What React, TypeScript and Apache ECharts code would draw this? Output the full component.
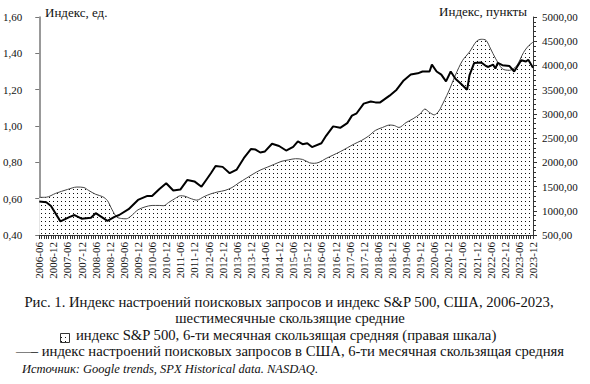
import React, { useEffect, useRef } from "react";
import * as echarts from "echarts";

// X axis: months since 2006-06 (0 = 2006-06, 210 = 2023-12), labelled every 6 months
const periodLabels = [
  "2006-06", "2006-12", "2007-06", "2007-12", "2008-06", "2008-12", "2009-06", "2009-12",
  "2010-06", "2010-12", "2011-06", "2011-12", "2012-06", "2012-12", "2013-06", "2013-12",
  "2014-06", "2014-12", "2015-06", "2015-12", "2016-06", "2016-12", "2017-06", "2017-12",
  "2018-06", "2018-12", "2019-06", "2019-12", "2020-06", "2020-12", "2021-06", "2021-12",
  "2022-06", "2022-12", "2023-06", "2023-12",
];

// S&P 500, 6-month moving average (right scale)
const spMonths = [0, 3, 7, 12, 16, 19, 21, 24, 27, 29, 31, 33, 35, 37, 39, 42, 45, 48, 51, 53, 55, 58, 60, 62, 64, 67, 70, 73, 76, 79, 82, 85, 88, 91, 94, 97, 100, 103, 106, 109, 112, 115, 117, 119, 122, 125, 128, 131, 134, 137, 140, 143, 146, 149, 151, 153, 156, 159, 162, 164, 166, 168, 170, 171, 174, 177, 180, 183, 186, 188, 190, 192, 194, 197, 200, 203, 206, 208, 210];
const spValues = [1277, 1280, 1360, 1440, 1490, 1480, 1420, 1340, 1290, 1210, 1020, 870, 840, 835, 890, 1020, 1080, 1110, 1110, 1105, 1170, 1260, 1310, 1300, 1260, 1220, 1290, 1350, 1390, 1420, 1480, 1580, 1670, 1760, 1840, 1900, 1960, 2020, 2050, 2075, 2060, 1990, 1980, 2000, 2080, 2150, 2220, 2300, 2380, 2450, 2540, 2660, 2720, 2770, 2760, 2720, 2820, 2900, 3000, 3100, 3030, 2980, 3060, 3150, 3450, 3800, 4100, 4280, 4500, 4540, 4520, 4340, 4150, 3930, 3900, 3990, 4270, 4400, 4480];

// Search-query sentiment index, 6-month moving average (left scale)
const sentMonths = [0, 3, 5, 9, 13, 15, 18, 22, 24, 29, 32, 34, 38, 42, 46, 48, 51, 54, 57, 60, 63, 66, 69, 71, 73, 75, 78, 81, 84, 87, 90, 92, 94, 96, 99, 102, 105, 108, 110, 112, 114, 116, 120, 122, 125, 128, 131, 133, 135, 138, 141, 143, 145, 149, 152, 155, 158, 161, 163, 166, 167, 169, 171, 173, 175, 177, 179, 182, 183, 185, 188, 190, 191, 193, 194, 195, 197, 200, 202, 205, 207, 208, 210];
const sentValues = [0.584, 0.58, 0.56, 0.475, 0.5, 0.51, 0.49, 0.495, 0.52, 0.478, 0.5, 0.51, 0.542, 0.593, 0.615, 0.615, 0.652, 0.685, 0.645, 0.65, 0.703, 0.695, 0.666, 0.703, 0.74, 0.78, 0.775, 0.74, 0.76, 0.823, 0.873, 0.87, 0.854, 0.86, 0.902, 0.89, 0.865, 0.885, 0.915, 0.9, 0.905, 0.884, 0.905, 0.946, 0.998, 0.99, 1.016, 1.057, 1.07, 1.123, 1.135, 1.13, 1.13, 1.167, 1.2, 1.251, 1.283, 1.29, 1.3, 1.3, 1.338, 1.3, 1.283, 1.246, 1.3, 1.26, 1.237, 1.2, 1.28, 1.347, 1.35, 1.33, 1.325, 1.338, 1.316, 1.347, 1.335, 1.33, 1.3, 1.362, 1.355, 1.365, 1.32];

const leftAxisName = "Индекс, ед.";
const rightAxisName = "Индекс, пункты";
const captionLine1 = "Рис. 1. Индекс настроений поисковых запросов и индекс S&P 500, США, 2006-2023,";
const captionLine2 = "шестимесячные скользящие средние";
const legendSp = "индекс S&P 500, 6-ти месячная скользящая средняя (правая шкала)";
const legendSent = "—– индекс настроений поисковых запросов в США, 6-ти месячная скользящая средняя";
const sourceText = "Источник: Google trends, SPX Historical data. NASDAQ.";

const FONT = "'Liberation Serif', 'Times New Roman', serif";

function makeDotPattern() {
  const c = document.createElement("canvas");
  c.width = 4;
  c.height = 4;
  const ctx = c.getContext("2d")!;
  ctx.fillStyle = "#ffffff";
  ctx.fillRect(0, 0, 4, 4);
  ctx.fillStyle = "#111111";
  ctx.fillRect(1, 1, 1, 1);
  return { image: c, repeat: "repeat", imageWidth: 4, imageHeight: 4 } as any;
}

export default function App() {
  const ref = useRef<HTMLDivElement>(null);
  useEffect(() => {
    if (!ref.current) return;
    const chart = echarts.init(ref.current, null, { renderer: "svg" });
    const pattern = makeDotPattern();
    const pattern2 = makeDotPattern();
    const spData = spMonths.map((m, i) => [m, spValues[i]]);
    const sentData = sentMonths.map((m, i) => [m, sentValues[i]]);
    const comma2 = (v: number) => v.toFixed(2).replace(".", ",");
    const capFont = `14.7px ${FONT}`;
    chart.setOption({
      animation: false,
      backgroundColor: "#ffffff",
      textStyle: { fontFamily: FONT },
      grid: { left: 37, right: 57, top: 17, bottom: 149 },
      xAxis: {
        type: "value",
        min: 0,
        max: 210,
        interval: 6,
        axisLine: { show: true, lineStyle: { color: "#333", width: 1 } },
        axisTick: { show: true, length: 4, lineStyle: { color: "#333" } },
        minorTick: { show: true, splitNumber: 6, length: 4, lineStyle: { color: "#333" } },
        splitLine: { show: false },
        axisLabel: {
          rotate: 90,
          margin: 7,
          fontSize: 11,
          color: "#111",
          fontFamily: FONT,
          formatter: (v: number) => periodLabels[Math.round(v / 6)] ?? "",
        },
      },
      yAxis: [
        {
          type: "value",
          min: 0.4,
          max: 1.6,
          interval: 0.2,
          position: "left",
          axisLine: { show: true, lineStyle: { color: "#777", width: 1.5 } },
          axisTick: { show: true, length: 4, lineStyle: { color: "#777" } },
          splitLine: { show: false },
          axisLabel: { margin: 17, fontSize: 11, color: "#111", fontFamily: FONT, formatter: comma2 },
        },
        {
          type: "value",
          min: 500,
          max: 5000,
          interval: 500,
          position: "right",
          axisLine: { show: true, lineStyle: { color: "#333", width: 1 } },
          axisTick: { show: true, length: 4, lineStyle: { color: "#333" } },
          minorTick: { show: true, splitNumber: 5, length: 3, lineStyle: { color: "#333" } },
          splitLine: { show: false },
          axisLabel: { margin: 9, fontSize: 11, color: "#111", fontFamily: FONT, formatter: comma2 },
        },
      ],
      series: [
        {
          type: "line",
          name: "S&P 500",
          yAxisIndex: 1,
          data: spData,
          showSymbol: false,
          symbol: "none",
          smooth: 0.3,
          lineStyle: { color: "#444", width: 1 },
          areaStyle: { color: pattern, opacity: 1, origin: "start" },
          z: 1,
        },
        {
          type: "line",
          name: "sentiment",
          yAxisIndex: 0,
          data: sentData,
          showSymbol: false,
          symbol: "none",
          lineStyle: { color: "#000", width: 2 },
          z: 3,
        },
      ],
      graphic: [
        { type: "text", left: 45, top: 6, style: { text: leftAxisName, font: `13px ${FONT}`, fill: "#111" } },
        { type: "text", right: 63, top: 5, style: { text: rightAxisName, font: `13px ${FONT}`, fill: "#111" } },
        { type: "text", x: 289, y: 302, style: { text: captionLine1, font: capFont, fill: "#111", align: "center", verticalAlign: "middle" } },
        { type: "text", x: 290, y: 318, style: { text: captionLine2, font: capFont, fill: "#111", align: "center", verticalAlign: "middle" } },
        { type: "rect", shape: { x: 60.5, y: 333.5, width: 9, height: 9 }, style: { fill: pattern2, stroke: "#333", lineWidth: 1 } },
        { type: "text", x: 76, y: 335, style: { text: legendSp, font: capFont, fill: "#111", align: "left", verticalAlign: "middle" } },
        { type: "text", x: 290, y: 351, style: { text: legendSent, font: capFont, fill: "#111", align: "center", verticalAlign: "middle" } },
        { type: "text", x: 22, y: 369, style: { text: sourceText, font: `italic 12.5px ${FONT}`, fill: "#111", align: "left", verticalAlign: "middle" } },
      ],
    });
    return () => chart.dispose();
  }, []);
  return (
    <div
      ref={ref}
      style={{ position: "fixed", left: 0, top: 0, width: 590, height: 384, background: "#fff" }}
    />
  );
}
